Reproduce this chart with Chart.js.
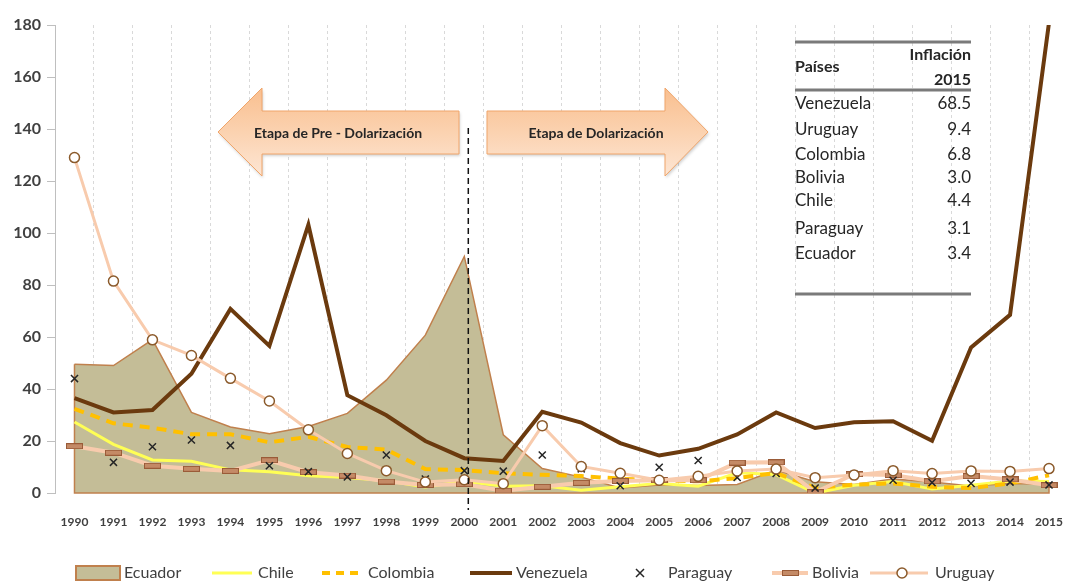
<!DOCTYPE html>
<html><head><meta charset="utf-8">
<script src="https://cdn.jsdelivr.net/npm/chart.js@4"></script>
<style>
html,body{margin:0;padding:0;background:#fff;overflow:hidden;width:1065px;height:583px}
#wrap{position:absolute;left:0;top:0;width:1090px;height:583px}
</style>
</head><body><div id="wrap"><canvas id="c" width="1090" height="583"></canvas></div>
<script>
const years = ['1990','1991','1992','1993','1994','1995','1996','1997','1998','1999','2000','2001','2002','2003','2004','2005','2006','2007','2008','2009','2010','2011','2012','2013','2014','2015'];
const ecuador   = [49.5,49.0,59.0,31.0,25.4,22.8,25.6,30.6,43.4,60.7,91.0,22.4,9.4,6.1,1.9,3.1,2.9,3.3,8.8,4.3,3.3,5.4,4.2,2.7,3.7,3.4];
const chile     = [27.3,18.7,12.7,12.2,8.9,8.2,6.6,6.0,4.7,2.3,4.5,2.6,2.8,1.1,2.4,3.7,2.6,7.8,7.1,0.0,3.0,4.4,1.5,3.0,4.6,4.4];
const colombia  = [32.4,26.8,25.1,22.6,22.6,19.5,21.6,17.7,16.7,9.2,8.8,7.6,7.0,6.5,5.5,4.9,4.5,5.7,7.7,2.0,3.2,3.7,2.4,1.9,3.7,6.8];
const venezuela = [36.5,31.0,31.9,45.9,70.8,56.6,103.2,37.6,29.9,20.0,13.4,12.3,31.2,27.1,19.2,14.4,17.0,22.5,31.0,25.0,27.2,27.6,20.1,56.0,68.5,180.9];
const paraguay  = [44.0,11.8,17.8,20.4,18.3,10.5,8.2,6.2,14.6,5.4,8.6,8.4,14.6,9.3,2.8,9.9,12.5,6.0,7.5,1.9,7.2,4.9,4.0,3.7,4.2,3.1];
const bolivia   = [18.0,15.5,10.5,9.3,8.5,12.6,8.0,6.7,4.4,3.1,3.4,0.9,2.4,3.9,4.6,4.9,4.9,11.7,11.8,0.3,7.2,6.9,4.5,6.5,5.2,3.0];
const uruguay   = [129.0,81.5,58.9,52.9,44.1,35.4,24.3,15.2,8.6,4.2,5.1,3.6,25.9,10.2,7.6,4.9,6.4,8.5,9.2,5.9,6.9,8.6,7.5,8.5,8.3,9.4];
const yTicks = [0,20,40,60,80,100,120,140,160,180];
const tableCountries = ['Venezuela','Uruguay','Colombia','Bolivia','Chile','Paraguay','Ecuador'];
const tableValues = ['68.5','9.4','6.8','3.0','4.4','3.1','3.4'];
const stageLabels = ['Etapa de Pre - Dolarización','Etapa de Dolarización'];

const TXT = '#404040';
function barMarker(w,h){
  const c=document.createElement('canvas');c.width=w;c.height=h;
  const g=c.getContext('2d');
  g.fillStyle='#C48A66';g.fillRect(0,0,w,h);
  g.strokeStyle='#9A5B38';g.lineWidth=1;g.strokeRect(0.5,0.5,w-1,h-1);
  return c;
}
const bolMark = barMarker(17,6);

const overlay = {
  id:'overlay',
  afterDatasetDraw(chart,args){
    const ds=chart.data.datasets[args.index];
    if(ds.label!=='Ecuador')return;
    const ctx=chart.ctx, xs=chart.scales.x, ys=chart.scales.y;
    const x0=xs.getPixelForValue(0), x1=xs.getPixelForValue(ds.data.length-1), yb=ys.getPixelForValue(0);
    ctx.save();ctx.strokeStyle=ds.borderColor;ctx.lineWidth=1.5;
    ctx.beginPath();ctx.moveTo(x0,ys.getPixelForValue(ds.data[0]));ctx.lineTo(x0,yb);ctx.lineTo(x1,yb);ctx.lineTo(x1,ys.getPixelForValue(ds.data[ds.data.length-1]));ctx.stroke();
    ctx.restore();
  },
  afterDatasetsDraw(chart){
    const ctx=chart.ctx, xs=chart.scales.x;
    const xd = xs.getPixelForValue(10)+4;
    ctx.save();
    ctx.strokeStyle='#111';ctx.lineWidth=1.5;ctx.setLineDash([6,4]);
    ctx.beginPath();ctx.moveTo(xd,128);ctx.lineTo(xd,510);ctx.stroke();
    ctx.restore();
    function arrow(pts,tx,ty,label){
      ctx.save();
      const g=ctx.createLinearGradient(0,88,0,176);
      g.addColorStop(0,'#F9BF8F');g.addColorStop(0.5,'#FBD2B0');g.addColorStop(1,'#FDE6D4');
      ctx.shadowColor='rgba(0,0,0,0.18)';ctx.shadowBlur=3;ctx.shadowOffsetX=1;ctx.shadowOffsetY=2;
      ctx.beginPath();pts.forEach((p,i)=>i?ctx.lineTo(p[0],p[1]):ctx.moveTo(p[0],p[1]));ctx.closePath();
      ctx.fillStyle=g;ctx.fill();
      ctx.shadowColor='transparent';
      ctx.strokeStyle='#F0A56A';ctx.lineWidth=1;ctx.stroke();
      ctx.fillStyle='#262626';ctx.font='bold 14px Lato';ctx.textAlign='center';ctx.textBaseline='middle';
      ctx.fillText(label,tx,ty);
      ctx.restore();
    }
    arrow([[218,132],[262,88],[262,111],[459,111],[459,154],[262,154],[262,176]],338,133,stageLabels[0]);
    arrow([[487,111],[665,111],[665,88],[708,132],[665,176],[665,154],[487,154]],596,133,stageLabels[1]);
  },
  afterDraw(chart){
    const ctx=chart.ctx;
    ctx.save();
    ctx.strokeStyle='#7A7A7A';ctx.lineWidth=3;
    [42,90,294].forEach(y=>{ctx.beginPath();ctx.moveTo(795,y);ctx.lineTo(971,y);ctx.stroke();});
    ctx.fillStyle='#262626';ctx.textBaseline='middle';
    ctx.font='bold 16px Lato';ctx.textAlign='left';ctx.fillText('Países',795,67);
    ctx.textAlign='right';ctx.fillText('Inflación',971,55);ctx.fillText('2015',971,80);
    ctx.font='17px Lato';
    const rowsY=[104,130,155,178,201,229,254];
    tableCountries.forEach((n,i)=>{ctx.textAlign='left';ctx.fillText(n,795,rowsY[i]);ctx.textAlign='right';ctx.fillText(tableValues[i],971,rowsY[i]);});
    const ly=573;
    ctx.font='16px Lato';ctx.fillStyle=TXT;ctx.textAlign='left';ctx.textBaseline='middle';
    ctx.fillStyle='#C4BD97';ctx.fillRect(76,566,44,14);ctx.strokeStyle='#C0804D';ctx.lineWidth=2;ctx.strokeRect(76,566,44,14);
    ctx.fillStyle=TXT;ctx.fillText('Ecuador',124,ly);
    function seg(x1,x2,color,w,dash){ctx.save();ctx.strokeStyle=color;ctx.lineWidth=w;ctx.setLineDash(dash||[]);ctx.beginPath();ctx.moveTo(x1,ly);ctx.lineTo(x2,ly);ctx.stroke();ctx.restore();}
    seg(212,252,'#FFFF55',3);ctx.fillText('Chile',258,ly);
    seg(322,360,'#FFC000',4,[8,6]);ctx.fillText('Colombia',368,ly);
    seg(470,512,'#6B3A0E',4);ctx.fillText('Venezuela',516,ly);
    ctx.save();ctx.strokeStyle='#262626';ctx.lineWidth=1.5;ctx.beginPath();ctx.moveTo(636,ly-4);ctx.lineTo(644,ly+4);ctx.moveTo(644,ly-4);ctx.lineTo(636,ly+4);ctx.stroke();ctx.restore();
    ctx.fillText('Paraguay',668,ly);
    seg(772,808,'#F8CBAD',4);ctx.drawImage(bolMark,782,ly-3);ctx.fillText('Bolivia',812,ly);
    seg(870,928,'#F8CBAD',3);
    ctx.save();ctx.beginPath();ctx.arc(902,ly,5,0,Math.PI*2);ctx.fillStyle='#fff';ctx.fill();ctx.strokeStyle='#8B5A2B';ctx.lineWidth=1.5;ctx.stroke();ctx.restore();
    ctx.fillText('Uruguay',935,ly);
    ctx.restore();
  }
};

new Chart(document.getElementById('c'),{
  type:'line',
  data:{labels:years,datasets:[
    {label:'Uruguay',data:uruguay,order:1,borderColor:'#F8CBAD',borderWidth:3,pointStyle:'circle',pointRadius:5,pointBackgroundColor:'#fff',pointBorderColor:'#8B5A2B',pointBorderWidth:1.5,tension:0,fill:false},
    {label:'Paraguay',data:paraguay,order:2,showLine:false,pointStyle:'crossRot',pointRadius:5,pointBorderColor:'#262626',pointBorderWidth:1.5,borderColor:'#262626'},
    {label:'Bolivia',data:bolivia,order:3,borderColor:'#F8CBAD',borderWidth:4,pointStyle:bolMark,tension:0,fill:false},
    {label:'Venezuela',data:venezuela,order:4,borderColor:'#6B3A0E',borderWidth:4,pointRadius:0,tension:0,fill:false},
    {label:'Colombia',data:colombia,order:5,borderColor:'#FFC000',borderWidth:4,borderDash:[10,7],pointRadius:0,tension:0,fill:false},
    {label:'Chile',data:chile,order:6,borderColor:'#FFFF55',borderWidth:3,pointRadius:0,tension:0,fill:false},
    {label:'Ecuador',data:ecuador,order:10,borderColor:'#C0804D',borderWidth:1.5,backgroundColor:'#C4BD97',pointRadius:0,tension:0,fill:'origin'}
  ]},
  options:{
    responsive:false,animation:false,
    layout:{padding:{top:25,right:21.5,left:0,bottom:0}},
    plugins:{legend:{display:false},tooltip:{enabled:false}},
    elements:{line:{borderCapStyle:'butt',borderJoinStyle:'miter'}},
    scales:{
      x:{offset:true,
        grid:{offset:true,drawTicks:false,color:'#D9D9D9',lineWidth:1},
        border:{display:false,dash:[3,3]},
        ticks:{font:{family:'Lato',weight:'bold',size:12},color:TXT,padding:22,maxRotation:0,autoSkip:false},
        afterFit(s){s.height=90;}
      },
      y:{min:0,max:180,
        afterBuildTicks(s){s.ticks=yTicks.map(v=>({value:v}));},
        grid:{drawOnChartArea:false,drawTicks:true,tickLength:8,color:'#BFBFBF'},
        border:{display:true,color:'#BFBFBF',width:1},
        ticks:{font:{family:'Lato',weight:'bold',size:16},color:TXT,padding:6},
        afterFit(s){s.width=55;}
      }
    }
  },
  plugins:[overlay]
});
</script>
</body></html>
